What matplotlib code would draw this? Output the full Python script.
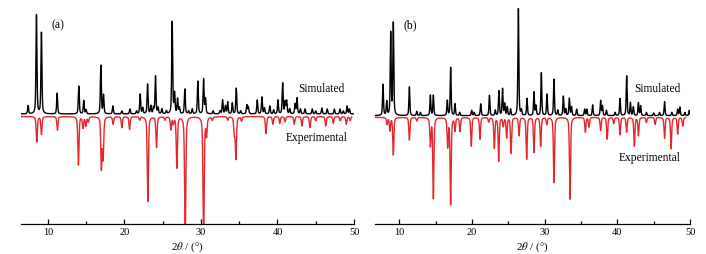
import numpy as np
import matplotlib
matplotlib.use("Agg")
import matplotlib.pyplot as plt

plt.rcParams['font.family'] = ['Liberation Serif', 'DejaVu Serif']
plt.rcParams['mathtext.fontset'] = 'stix'

# ---------------- data: (2theta, relative intensity) ----------------
sim_a_pos = [7.43, 8.52, 9.17, 11.22, 14.05, 14.7, 15.0, 16.93, 17.28, 18.5, 19.67, 20.72, 21.6,
             22.07, 22.4, 23.03, 23.46, 23.8, 24.07, 24.4, 24.9, 25.5, 26.25, 26.56, 26.95, 27.2,
             27.9, 28.4, 28.87, 29.6, 30.35, 30.6, 31.6, 32.5, 32.83, 33.2, 33.5, 34.1, 34.62, 35.2,
             36.0, 36.2, 37.36, 37.97, 38.3, 39.0, 39.5, 40.07, 40.68, 41.0, 41.2, 41.6, 42.3, 42.55,
             43.0, 43.6, 44.55, 45.0, 45.8, 46.5, 47.43, 48.17, 48.6, 49.1, 49.4]
sim_a_int = [8.4, 100, 82, 21, 28, 13.5, 4, 49, 19, 8, 3, 5, 3,
             20, 6, 30, 8, 6, 38, 6, 5, 3, 93, 20, 15, 6,
             25, 3, 5, 33, 35, 15, 3, 3, 14, 8, 12, 11, 26, 3,
             9, 7, 14, 17, 6, 8, 4, 14, 31, 12, 13, 5, 10, 16,
             5, 5, 5, 3, 6, 5, 5, 5, 3, 8, 5]

exp_a_pos = [8.56, 9.17, 11.26, 14.0, 14.6, 14.97, 15.3, 17.0, 17.23, 18.54, 19.67, 20.68, 22.0,
             23.07, 24.2, 25.3, 26.08, 26.4, 26.86, 27.95, 30.35, 30.74, 31.5, 33.5, 34.36, 34.57,
             35.3, 38.5, 39.4, 40.3, 41.0, 42.2, 43.2, 44.25, 45.0, 46.3, 47.3, 48.2, 49.0, 49.5]
exp_a_int = [30, 21, 16, 57, 13, 11, 6, 60, 48, 9, 13, 15, 4,
             100, 36, 4, 15, 8, 60, 150, 150, 21, 4, 4, 19, 49,
             5, 20, 9, 8, 6, 9, 11, 13, 5, 11, 8, 5, 9, 5]

sim_b_pos = [7.75, 8.26, 8.81, 9.17, 11.38, 12.4, 12.9, 14.27, 14.68, 16.6, 17.06, 17.66, 18.3,
             19.95, 20.3, 21.2, 22.4, 23.2, 23.7, 24.2, 24.5, 24.85, 25.3, 26.38, 26.8, 27.57,
             28.53, 28.8, 29.54, 30.32, 31.28, 31.8, 32.57, 32.9, 33.4, 33.7, 34.4, 35.5, 35.8,
             36.6, 37.7, 37.95, 38.5, 39.7, 40.37, 41.28, 41.8, 42.2, 42.9, 43.2, 44.0, 45.0,
             45.8, 46.5, 47.5, 48.3, 48.6, 49.3, 49.9]
sim_b_int = [29, 13, 77, 86, 27, 4, 3, 19, 19, 14, 45, 11, 3,
             5, 3, 11, 19, 5, 23, 25, 11, 8, 6, 100, 5, 16,
             22, 9, 40, 20, 34, 5, 18, 6, 16, 8, 6, 6, 6,
             10, 14, 9, 5, 3, 16, 37, 12, 8, 12, 9, 3, 2.5,
             3, 13, 3, 6, 8, 3, 5]

exp_b_pos = [8.3, 8.7, 9.17, 11.38, 12.4, 14.27, 14.68, 16.65, 17.06, 17.66, 18.35, 19.9, 21.1,
             22.3, 23.07, 23.67, 24.3, 24.77, 25.37, 26.47, 27.52, 28.53, 29.45, 30.3, 31.28,
             33.49, 35.6, 36.1, 37.7, 38.6, 39.5, 40.37, 41.28, 42.34, 42.9, 44.0, 45.2, 46.5,
             47.4, 48.3, 49.0]
exp_b_int = [8, 15, 43, 26, 4, 32, 93, 33, 100, 15, 16, 33, 25,
             5, 35, 50, 10, 23, 41, 21, 48, 40, 33, 8, 75,
             94, 17, 11, 15, 25, 7, 20, 17, 33, 21, 6, 8, 24,
             36, 19, 10]

x_ticks = [10, 20, 30, 40, 50]
x_minor = [15, 25, 35, 45]


def pattern(x, pos, inten, fwhm):
    g = fwhm / 2.0
    y = np.zeros_like(x)
    for p, i in zip(pos, inten):
        lor = g ** 2 / ((x - p) ** 2 + g ** 2)
        gau = np.exp(-4 * np.log(2) * ((x - p) / fwhm) ** 2)
        y += i * (0.5 * lor + 0.5 * gau)
    return y


W, H = 706, 255
fig = plt.figure(figsize=(W / 100, H / 100), dpi=100)

panels = [
    dict(left=21, right=354, xmin=6.5, sim=(sim_a_pos, sim_a_int), exp=(exp_a_pos, exp_a_int),
         sim_base=110, sim_scale=0.99, exp_base=107.5, exp_scale=0.85,
         sim_rng=(6.55, 50.1), exp_rng=(6.55, 49.7), label='(a)', lab_x=51,
         sim_txt=(298, 89), exp_txt=(286, 138)),
    dict(left=375, right=690, xmin=6.65, sim=(sim_b_pos, sim_b_int), exp=(exp_b_pos, exp_b_int),
         sim_base=108.3, sim_scale=1.07, exp_base=106.7, exp_scale=0.87,
         sim_rng=(6.7, 50.0), exp_rng=(6.7, 49.4), label='(b)', lab_x=404,
         sim_txt=(634, 89), exp_txt=(619, 158)),
]

ax_bottom_px = 225
ax_top_px = 5
for P in panels:
    ax = fig.add_axes([P['left'] / W, 1 - ax_bottom_px / H, (P['right'] - P['left']) / W,
                       (ax_bottom_px - ax_top_px) / H])
    ax.set_xlim(P['xmin'], 50)
    ax.set_ylim(0, ax_bottom_px - ax_top_px)
    xs = np.linspace(*P['sim_rng'], 6000)
    ys = P['sim_base'] + P['sim_scale'] * pattern(xs, *P['sim'], 0.15)
    ax.plot(xs, ys, color='black', lw=1.0)
    xe = np.linspace(*P['exp_rng'], 6000)
    ye = P['exp_base'] - P['exp_scale'] * pattern(xe, *P['exp'], 0.18)
    ax.plot(xe, ye, color='#e5262b', lw=1.0)

    for s in ['left', 'right', 'top']:
        ax.spines[s].set_visible(False)
    ax.spines['bottom'].set_linewidth(0.9)
    ax.set_yticks([])
    ax.set_xticks(x_ticks)
    ax.set_xticks(x_minor, minor=True)
    ax.tick_params(axis='x', which='major', direction='in', length=3.6, width=0.9,
                   labelsize=7.5, pad=2)
    ax.tick_params(axis='x', which='minor', direction='in', length=2.2, width=0.9)
    ax.set_xlabel(r'2$\theta$ / (°)', fontsize=8, labelpad=2.5)

    fig.text(P['lab_x'] / W, 1 - 25 / H, P['label'], fontsize=8.5, va='center', ha='left')
    fig.text(P['sim_txt'][0] / W, 1 - P['sim_txt'][1] / H, 'Simulated', fontsize=8.3,
             va='center', ha='left')
    fig.text(P['exp_txt'][0] / W, 1 - P['exp_txt'][1] / H, 'Experimental', fontsize=8.3,
             va='center', ha='left')

fig.savefig('out.png', dpi=100)
